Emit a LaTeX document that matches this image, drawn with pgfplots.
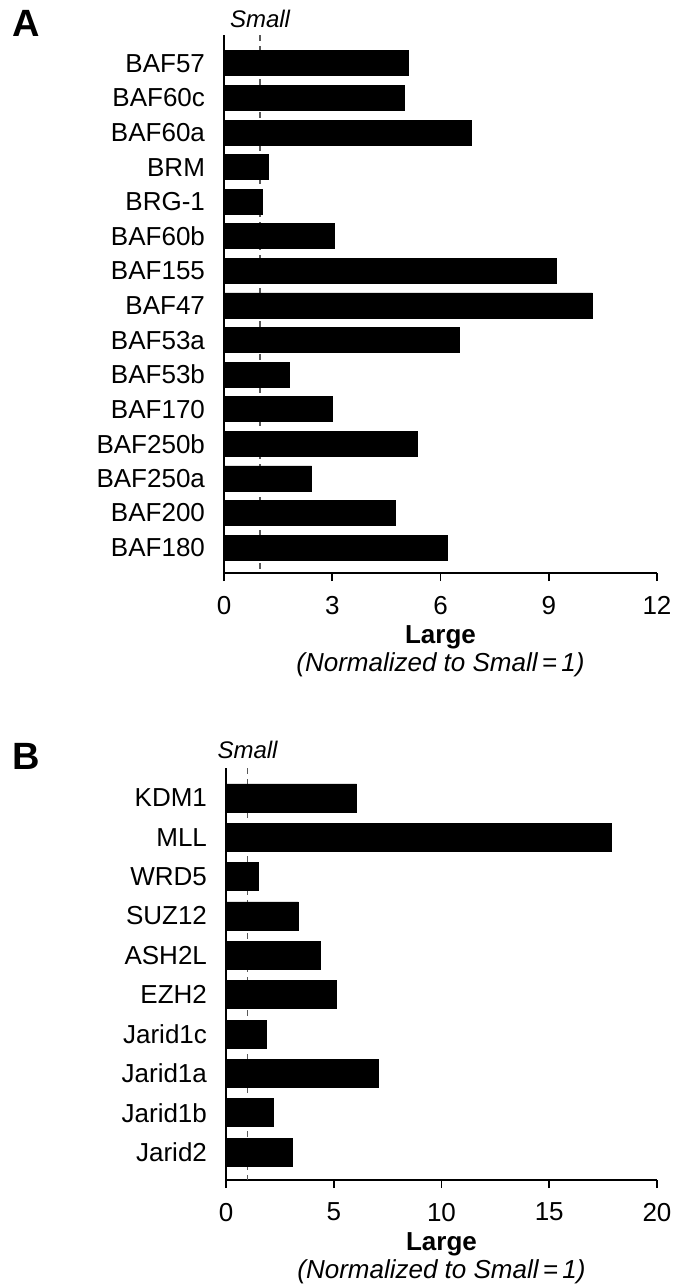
\documentclass[border=0pt]{standalone}
\usepackage{pgfplots}
\pgfplotsset{compat=1.18}
\usepackage{fontspec}
\setmainfont{Liberation Sans}
\begin{document}
\fontsize{13pt}{15pt}\selectfont
\begin{tikzpicture}
\pgfplotsset{
  panel/.style={
    scale only axis,
    anchor=north west,
    axis x line*=bottom, axis y line*=left,
    axis line style={-, line width=0.8pt, black},
    y dir=reverse,
    xmin=0,
    clip=false,
    tick align=outside,
    xtick style={line width=0.8pt, black},
    major tick length=4pt,
    ytick style={draw=none},
    /pgf/number format/assume math mode=true,
    ticklabel style={font=\fontsize{13}{15}\selectfont},
    xticklabel style={yshift=-3pt},
    yticklabel style={xshift=-1pt},
    xlabel={\textbf{Large}\\\textit{(Normalized to Small\,=\,1)}},
    xlabel style={align=center, font=\fontsize{13}{14}\selectfont, at={(axis description cs:0.5,0)}, anchor=north, yshift=-22pt},
  }
}
\begin{axis}[panel,
  at={(112pt,-17.5pt)},
  width=216.5pt, height=269pt,
  xmax=12, xtick={0,3,6,9,12},
  ymin=-0.82, ymax=14.735,
  ytick={0,...,14},
  yticklabels={BAF57,BAF60c,BAF60a,BRM,BRG-1,BAF60b,BAF155,BAF47,BAF53a,BAF53b,BAF170,BAF250b,BAF250a,BAF200,BAF180},
]
\addplot[gray!70!black, line width=0.8pt, dash pattern=on 3pt off 2.5pt, no marks] coordinates {(1,-0.82) (1,14.735)};
\addplot[xbar, bar width=12.5pt, fill=black, draw=black] coordinates {
(5.12,0) (5.0,1) (6.87,2) (1.24,3) (1.06,4) (3.07,5) (9.21,6) (10.21,7)
(6.51,8) (1.81,9) (3.0,10) (5.37,11) (2.43,12) (4.74,13) (6.18,14)};
\node[anchor=base, font=\itshape\fontsize{12}{14}\selectfont, yshift=4pt] at (axis cs:1,-0.82) {Small};
\end{axis}
\begin{axis}[panel,
  at={(113pt,-384pt)},
  width=215.5pt, height=206pt,
  xmax=20, xtick={0,5,10,15,20},
  ymin=-0.76, ymax=9.71,
  ytick={0,...,9},
  yticklabels={KDM1,MLL,WRD5,SUZ12,ASH2L,EZH2,Jarid1c,Jarid1a,Jarid1b,Jarid2},
]
\addplot[gray!70!black, line width=0.8pt, dash pattern=on 3pt off 2.5pt, no marks] coordinates {(1,-0.76) (1,9.71)};
\addplot[xbar, bar width=14pt, fill=black, draw=black] coordinates {
(6.06,0) (17.87,1) (1.49,2) (3.36,3) (4.37,4) (5.14,5) (1.89,6) (7.05,7) (2.18,8) (3.08,9)};
\node[anchor=base, font=\itshape\fontsize{12}{14}\selectfont, yshift=5pt] at (axis cs:1,-0.76) {Small};
\end{axis}
\node[anchor=north west, inner sep=0pt, font=\bfseries\fontsize{19}{22}\selectfont] at (6pt,-5pt) {A};
\node[anchor=north west, inner sep=0pt, font=\bfseries\fontsize{19}{22}\selectfont] at (6pt,-371.5pt) {B};
\pgfresetboundingbox
\path[use as bounding box] (0,0) rectangle (337pt,-643pt);
\end{tikzpicture}
\end{document}
